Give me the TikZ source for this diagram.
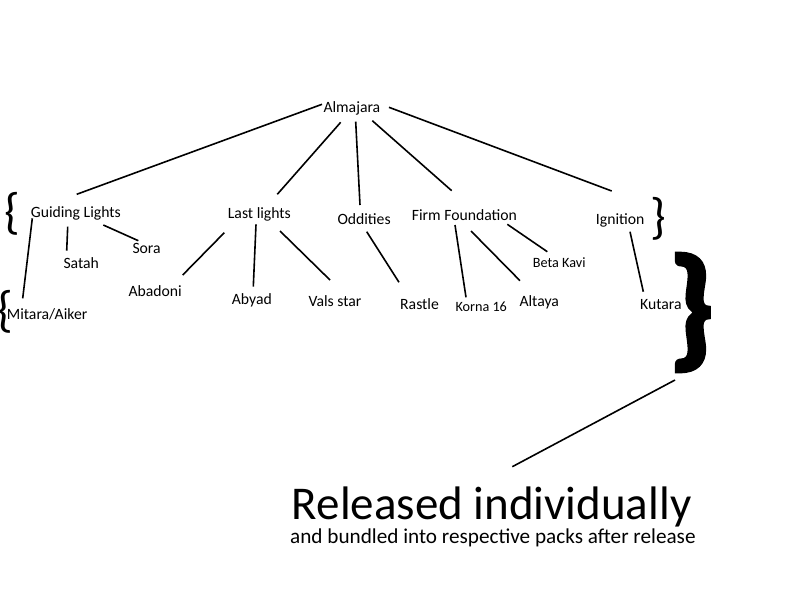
\documentclass[tikz,border=0pt]{standalone}
\usepackage{fontspec}
\setmainfont{Carlito}
\newfontfamily\heavybrace{Carlito Bold}[FakeBold=3]
\begin{document}
\begin{tikzpicture}[x=1pt,y=-1pt,
  lbl/.style={inner sep=0pt,anchor=base west,font=\fontsize{15.7}{18}\selectfont},
  small/.style={inner sep=0pt,anchor=base west,font=\fontsize{14.2}{17}\selectfont},
  brace/.style={inner sep=0pt,anchor=center,font=\fontsize{50}{54}\selectfont},
  conn/.style={line width=1.6pt}]
\useasboundingbox[fill=white] (0,0) rectangle (800,600);
% nodes
\node[lbl] (alm) at (323.3,112) {Almajara};
\node[lbl] (gl) at (30.7,217.5) {Guiding Lights};
\node[lbl] (ll) at (227.7,218) {Last lights};
\node[lbl] (odd) at (337.3,224) {Oddities};
\node[lbl] (ff) at (411.7,220.7) {Firm Foundation};
\node[lbl] (ign) at (595.7,224) {Ignition};
\node[lbl] (satah) at (63.3,268) {Satah};
\node[lbl] (sora) at (132.3,253) {Sora};
\node[lbl] (mit) at (6.7,319) {Mitara/Aiker};
\node[lbl] (aba) at (128.3,296) {Abadoni};
\node[lbl] (aby) at (231.7,304.5) {Abyad};
\node[lbl] (vals) at (308.3,306) {Vals star};
\node[lbl] (ras) at (400,309) {Rastle};
\node[small] (korna) at (455.3,311.7) {Korna 16};
\node[lbl] (alt) at (519.3,306) {Altaya};
\node[small] (beta) at (532.7,267) {Beta Kavi};
\node[lbl] (kut) at (640,309) {Kutara};
% braces
\node[brace] (bracegl) at (12.8,213.5) {\{};
\node[brace] (bracemit) at (5.5,312) {\{};
\node[brace] (braceign) at (658.3,219) {\}};
\node[inner sep=0pt,anchor=center,font=\fontsize{134}{138}\heavybrace] (bigbrace) at (691.5,312.5) {\}};
% caption
\node[inner sep=0pt,anchor=base west,font=\fontsize{47}{50}\selectfont] (rel) at (291.7,519.3) {Released individually};
\node[inner sep=0pt,anchor=base west,font=\fontsize{21.2}{24}\selectfont] (sub) at (290,543.3) {and bundled into respective packs after release};
% connectors
\draw[conn] ([shift={(-1.3,-7.7)}]alm.base west) -- ([shift={(46,-23.2)}]gl.base west);
\draw[conn] ([shift={(17.4,10.3)}]alm.base west) -- ([shift={(49.6,-23.7)}]ll.base west);
\draw[conn] ([shift={(32.4,9.7)}]alm.base west) -- ([shift={(22.7,-19)}]odd.base west);
\draw[conn] ([shift={(49,8.7)}]alm.base west) -- ([shift={(40,-30)}]ff.base west);
\draw[conn] ([shift={(65.7,-4.7)}]alm.base west) -- ([shift={(16,-33)}]ign.base west);
\draw[conn] ([shift={(37,9.2)}]gl.base west) -- ([shift={(3.4,-17.3)}]satah.base west);
\draw[conn] ([shift={(72.6,7.5)}]gl.base west) -- ([shift={(6,-12.3)}]sora.base west);
\draw[conn] ([shift={(1.6,0.8)}]gl.base west) -- ([shift={(16,-20.7)}]mit.base west);
\draw[conn] ([shift={(-3.4,14.7)}]ll.base west) -- ([shift={(54.4,-21)}]aba.base west);
\draw[conn] ([shift={(28.3,6.3)}]ll.base west) -- ([shift={(21.6,-17.8)}]aby.base west);
\draw[conn] ([shift={(52.3,13)}]ll.base west) -- ([shift={(21.7,-26)}]vals.base west);
\draw[conn] ([shift={(29.4,7.7)}]odd.base west) -- ([shift={(-1,-26.7)}]ras.base west);
\draw[conn] ([shift={(43.3,4.3)}]ff.base west) -- ([shift={(10.7,-14.4)}]korna.base west);
\draw[conn] ([shift={(59.3,10.3)}]ff.base west) -- ([shift={(0.7,-25.3)}]alt.base west);
\draw[conn] ([shift={(95.6,3.6)}]ff.base west) -- ([shift={(14.6,-15.3)}]beta.base west);
\draw[conn] ([shift={(34.3,7.7)}]ign.base west) -- ([shift={(3.3,-17.3)}]kut.base west);
\draw[conn] ([shift={(-16.5,67.5)}]bigbrace.center) -- ([shift={(220.6,-52.6)}]rel.base west);
\end{tikzpicture}
\end{document}
